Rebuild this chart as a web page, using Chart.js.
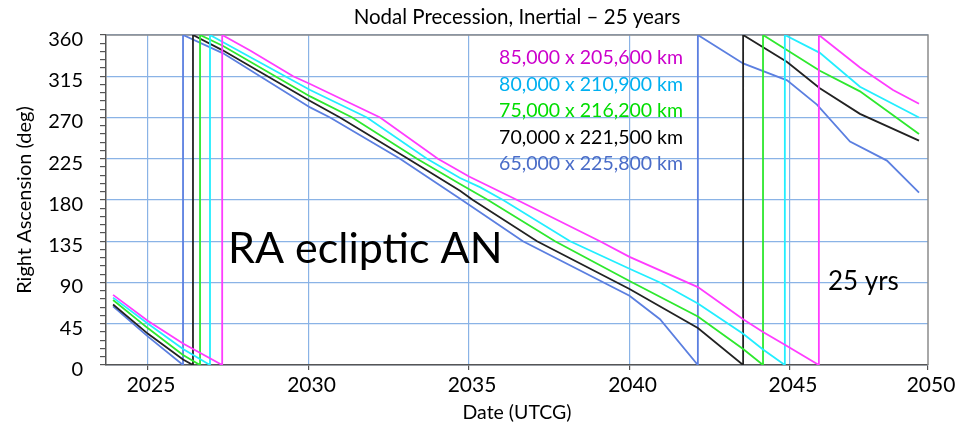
<!DOCTYPE html>
<html>
<head>
<meta charset="utf-8">
<title>Nodal Precession, Inertial – 25 years</title>
<script src="https://cdn.jsdelivr.net/npm/chart.js@4/dist/chart.umd.min.js"></script>
<style>
  html, body { margin: 0; padding: 0; background: #fff; }
  canvas { display: block; }
</style>
</head>
<body>
<canvas id="chart" width="966" height="426"></canvas>
<script>
// Orbit sizes (perigee x apogee), one line each
var seriesLabels = ['85,000 x 205,600 km', '80,000 x 210,900 km', '75,000 x 216,200 km', '70,000 x 221,500 km', '65,000 x 225,800 km'];

// Dates (decimal years) and RA of the ascending node (deg).
// A repeated date is where the angle wraps from 0 back to 360.
var years85 = [2023.91, 2025.0, 2026.09, 2027.31, 2027.31, 2028.18, 2029.52, 2030.05, 2032.23, 2034.03, 2035.0, 2036.5, 2039.08, 2040.0, 2042.13, 2043.54, 2044.16, 2044.84, 2045.9, 2045.9, 2047.18, 2048.21, 2049.02];
var ra85 = [76.5, 48, 23.5, 0, 360, 343, 315, 306.6, 270, 225, 205.7, 180, 135, 118, 85, 50, 36, 22, 0, 360, 324.5, 300, 285];

var years80 = [2023.91, 2025.0, 2026.09, 2026.93, 2026.93, 2027.34, 2030.05, 2031.82, 2033.69, 2034.72, 2035.34, 2036.06, 2038.15, 2040.0, 2040.95, 2042.13, 2043.54, 2044.16, 2044.84, 2044.84, 2045.93, 2047.18, 2049.02];
var ra80 = [73.5, 45, 17.4, 0, 360, 352, 300, 270, 225, 204, 194, 180, 135, 105, 90, 67, 34, 17, 0, 360, 340.5, 303.5, 270];

var years75 = [2023.91, 2025.0, 2026.09, 2026.62, 2026.62, 2027.34, 2030.05, 2031.36, 2033.38, 2034.72, 2035.59, 2037.68, 2040.0, 2042.13, 2043.54, 2044.16, 2044.16, 2045.93, 2047.18, 2049.02];
var ra75 = [70.9, 40, 11, 0, 360, 348, 293, 270, 225, 197.5, 180, 135, 91.6, 53, 17.5, 0, 360, 321, 298.5, 252];

var years70 = [2023.91, 2025.0, 2026.09, 2026.4, 2026.4, 2027.34, 2030.05, 2030.98, 2033.1, 2034.72, 2035.12, 2037.12, 2040.0, 2042.13, 2043.54, 2043.54, 2044.91, 2045.93, 2047.18, 2049.02];
var ra70 = [66, 34, 6, 0, 360, 343, 288, 270, 225, 190, 180, 135, 83, 40.4, 0, 360, 330.6, 302, 274, 244.7];

var years65 = [2023.91, 2025.0, 2026.09, 2026.09, 2027.34, 2030.05, 2030.67, 2032.85, 2034.78, 2036.68, 2040.0, 2040.95, 2042.13, 2042.13, 2043.54, 2044.91, 2045.84, 2046.87, 2048.02, 2049.02];
var ra65 = [64, 31, 0, 360, 340, 281, 270, 225, 180, 135, 75.6, 50, 0, 360, 329, 310.5, 284, 243.7, 223, 188];

// Axis range and tick labels
var xMin = 2023.69;
var xMax = 2049.3;
var xTickValues = [2025, 2030, 2035, 2040, 2045, xMax];
var xTickLabels = ['2025', '2030', '2035', '2040', '2045', '2050'];

var lineColors = ['#ff3cff', '#22eeff', '#2ee82e', '#222222', '#5b7fe0'];
var legendColors = ['#cc00cc', '#00b0f0', '#00dd00', '#000000', '#4a6cc8'];
var gridBlue = '#8ab3e6';

Chart.defaults.font.family = 'Lato';

function toPoints(xs, ys) {
  return xs.map(function(x, i) {
    return { x: x, y: ys[i] };
  });
}

var allYears = [years85, years80, years75, years70, years65];
var allRA = [ra85, ra80, ra75, ra70, ra65];

var datasets = seriesLabels.map(function(label, i) {
  return {
    label: label,
    data: toPoints(allYears[i], allRA[i]),
    borderColor: lineColors[i],
    borderWidth: 1.8,
    pointRadius: 0,
    tension: 0,
    fill: false
  };
});

// frame, on-chart legend and the two text notes
var chartText = {
  id: 'chartText',
  beforeDatasetsDraw: function(chart) {
    var ctx = chart.ctx;
    var a = chart.chartArea;
    ctx.save();
    ctx.strokeStyle = '#8c8c8c';
    ctx.lineWidth = 1.5;
    ctx.beginPath();
    ctx.moveTo(a.left, a.top);
    ctx.lineTo(a.right, a.top);
    ctx.lineTo(a.right, a.bottom);
    ctx.stroke();
    ctx.restore();
  },
  afterDatasetsDraw: function(chart) {
    var ctx = chart.ctx;
    ctx.save();
    ctx.font = '19.5px Lato';
    ctx.textAlign = 'right';
    ctx.textBaseline = 'middle';
    chart.data.datasets.forEach(function(ds, i) {
      ctx.fillStyle = legendColors[i];
      ctx.fillText(ds.label, 683, 58 + i * 26.5);
    });

    ctx.textAlign = 'left';
    ctx.textBaseline = 'alphabetic';
    ctx.fillStyle = '#000';
    ctx.font = '43px Lato';
    ctx.fillText('RA ecliptic AN', 228, 263);
    ctx.font = '26px Lato';
    ctx.fillText('25 yrs', 828, 290);
    ctx.restore();
  }
};

var chart = new Chart(document.getElementById('chart').getContext('2d'), {
  type: 'line',
  data: { datasets: datasets },
  plugins: [chartText],
  options: {
    responsive: false,
    animation: false,
    devicePixelRatio: 1,
    layout: { padding: { left: 0, right: 38, top: 0, bottom: 0 } },
    plugins: {
      legend: { display: false },
      tooltip: { enabled: false },
      title: {
        display: true,
        fullSize: false,
        text: 'Nodal Precession, Inertial – 25 years',
        color: '#000',
        font: { size: 20.5, weight: 'normal' },
        padding: { top: 5, bottom: 5.4 }
      }
    },
    scales: {
      x: {
        type: 'linear',
        min: xMin,
        max: xMax,
        afterBuildTicks: function(scale) {
          scale.ticks = xTickValues.map(function(v) { return { value: v }; });
        },
        afterFit: function(scale) { scale.height = 61; },
        ticks: {
          autoSkip: false,
          maxRotation: 0,
          color: '#000',
          font: { size: 21 },
          padding: 3,
          labelOffset: 3,
          callback: function(value, index) { return xTickLabels[index]; }
        },
        grid: {
          color: function(ctx) { return ctx.index < 5 ? gridBlue : 'rgba(0,0,0,0)'; },
          tickColor: '#555',
          tickLength: 5,
          lineWidth: 1.2
        },
        border: { color: '#555', width: 1.5 },
        title: {
          display: true,
          text: 'Date (UTCG)',
          color: '#000',
          font: { size: 19.5 },
          padding: { top: 0, bottom: 1.3 }
        }
      },
      y: {
        min: 0,
        max: 360,
        afterFit: function(scale) { scale.width = 106; },
        ticks: {
          stepSize: 9,
          autoSkip: false,
          maxTicksLimit: 100,
          color: '#000',
          font: { size: 20 },
          padding: 17,
          labelOffset: 4.5,
          callback: function(value) { return value % 45 === 0 ? value : ''; }
        },
        grid: {
          color: function(ctx) {
            return ctx.tick && ctx.tick.value % 45 === 0 ? gridBlue : 'rgba(0,0,0,0)';
          },
          tickColor: '#555',
          tickLength: 6,
          lineWidth: 1.2
        },
        border: { color: '#555', width: 1.5 },
        title: {
          display: true,
          text: 'Right Ascension (deg)',
          color: '#000',
          font: { size: 20 },
          padding: { top: 13, bottom: 0 }
        }
      }
    }
  }
});
</script>
</body>
</html>
